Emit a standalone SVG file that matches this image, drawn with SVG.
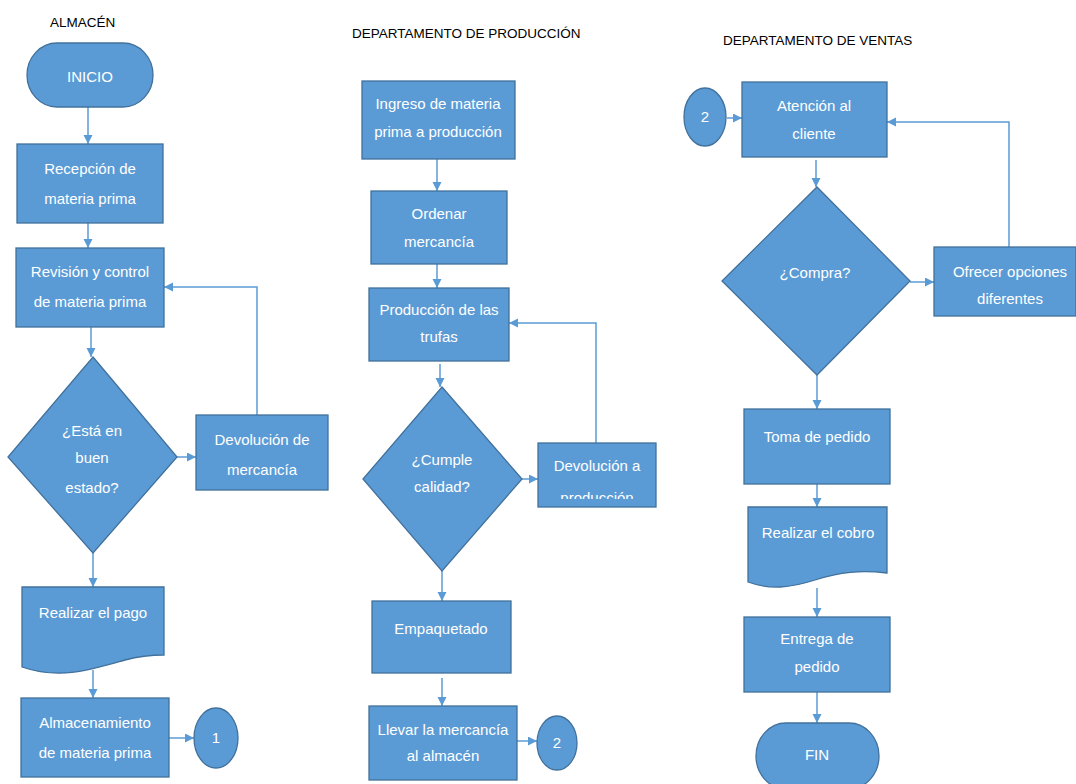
<svg xmlns="http://www.w3.org/2000/svg" width="1076" height="784" viewBox="0 0 1076 784">
<style>
.n{fill:#5B9BD5;stroke:#41719C;stroke-width:1.3}
.t{font-family:"Liberation Sans",Arial,sans-serif;font-size:15px;fill:#FFFFFF;text-anchor:middle}
.h{font-family:"Liberation Sans",Arial,sans-serif;font-size:13.5px;fill:#000000}
.e{fill:none;stroke:#5B9BD5;stroke-width:1.5}
</style>
<defs>
<marker id="ah" markerUnits="userSpaceOnUse" markerWidth="10" markerHeight="10" refX="9" refY="4.5" orient="auto">
<path d="M0,0 L9,4.5 L0,9 z" fill="#5B9BD5"/>
</marker>
<clipPath id="clipDev2"><rect x="538" y="443" width="118" height="56"/></clipPath>
</defs>
<rect width="1076" height="784" fill="#FFFFFF"/>

<g id="titles">
<text class="h" x="50" y="27">ALMACÉN</text>
<text class="h" x="352" y="38">DEPARTAMENTO DE PRODUCCIÓN</text>
<text class="h" x="723" y="45">DEPARTAMENTO DE VENTAS</text>
</g>

<g id="connectors">
<path class="e" marker-end="url(#ah)" d="M88,107 V144"/>
<path class="e" marker-end="url(#ah)" d="M88,223 V248"/>
<path class="e" marker-end="url(#ah)" d="M91,327 V357"/>
<path class="e" marker-end="url(#ah)" d="M177,457 H196"/>
<path class="e" marker-end="url(#ah)" d="M257,415 V287 H164"/>
<path class="e" marker-end="url(#ah)" d="M93,553 V587"/>
<path class="e" marker-end="url(#ah)" d="M93,670 V698"/>
<path class="e" marker-end="url(#ah)" d="M169,738 H194"/>
<path class="e" marker-end="url(#ah)" d="M437,159 V191"/>
<path class="e" marker-end="url(#ah)" d="M437,264 V288"/>
<path class="e" marker-end="url(#ah)" d="M440,364 V387"/>
<path class="e" marker-end="url(#ah)" d="M522,479 H538"/>
<path class="e" marker-end="url(#ah)" d="M596,443 V323 H509"/>
<path class="e" marker-end="url(#ah)" d="M442,571 V601"/>
<path class="e" marker-end="url(#ah)" d="M442,678 V706"/>
<path class="e" marker-end="url(#ah)" d="M517,741 H537"/>
<path class="e" marker-end="url(#ah)" d="M727,118 H742"/>
<path class="e" marker-end="url(#ah)" d="M816,160 V187"/>
<path class="e" marker-end="url(#ah)" d="M910,282 H934"/>
<path class="e" marker-end="url(#ah)" d="M1009,247 V122 H887"/>
<path class="e" marker-end="url(#ah)" d="M817,375 V409"/>
<path class="e" marker-end="url(#ah)" d="M817,484 V507"/>
<path class="e" marker-end="url(#ah)" d="M817,588 V617"/>
<path class="e" marker-end="url(#ah)" d="M817,692 V723"/>
</g>

<g id="inicio">
<rect class="n" x="27" y="43" width="126" height="64" rx="30" ry="32"/>
<text class="t" x="90" y="82">INICIO</text>
</g>
<g id="recepcion">
<rect class="n" x="17" y="144" width="146" height="79"/>
<text class="t" x="90" y="174">Recepción de</text>
<text class="t" x="90" y="204">materia prima</text>
</g>
<g id="revision">
<rect class="n" x="16" y="248" width="148" height="79"/>
<text class="t" x="90" y="277">Revisión y control</text>
<text class="t" x="90" y="307">de materia prima</text>
</g>
<g id="estado">
<path class="n" d="M93,357 L177,457 L93,553 L8,457 z"/>
<text class="t" x="92" y="436">¿Está en</text>
<text class="t" x="92" y="463">buen</text>
<text class="t" x="92" y="493">estado?</text>
</g>
<g id="devolucion-mercancia">
<rect class="n" x="196" y="415" width="132" height="75"/>
<text class="t" x="262" y="445">Devolución de</text>
<text class="t" x="262" y="475">mercancía</text>
</g>
<g id="pago">
<path class="n" d="M22,587 H164 V655 C150,655 140,656 125,660 C90,670 60,680 22,667 z"/>
<text class="t" x="93" y="618">Realizar el pago</text>
</g>
<g id="almacenamiento">
<rect class="n" x="21" y="698" width="148" height="79"/>
<text class="t" x="95" y="728">Almacenamiento</text>
<text class="t" x="95" y="758">de materia prima</text>
</g>
<g id="conector-1">
<ellipse class="n" cx="216" cy="738" rx="22" ry="30"/>
<text class="t" x="216" y="743">1</text>
</g>

<g id="ingreso">
<rect class="n" x="362" y="81" width="153" height="78"/>
<text class="t" x="438" y="109">Ingreso de materia</text>
<text class="t" x="438" y="137">prima a producción</text>
</g>
<g id="ordenar">
<rect class="n" x="371" y="191" width="136" height="73"/>
<text class="t" x="439" y="219">Ordenar</text>
<text class="t" x="439" y="247">mercancía</text>
</g>
<g id="produccion">
<rect class="n" x="369" y="288" width="140" height="73"/>
<text class="t" x="439" y="315">Producción de las</text>
<text class="t" x="439" y="342">trufas</text>
</g>
<g id="calidad">
<path class="n" d="M442,387 L522,479 L442,571 L363,479 z"/>
<text class="t" x="442" y="465">¿Cumple</text>
<text class="t" x="442" y="492">calidad?</text>
</g>
<g id="devolucion-produccion">
<rect class="n" x="538" y="443" width="118" height="64"/>
<text class="t" x="597" y="471">Devolución a</text>
<text class="t" x="597" y="503" clip-path="url(#clipDev2)">producción</text>
</g>
<g id="empaquetado">
<rect class="n" x="372" y="601" width="139" height="72"/>
<text class="t" x="441" y="634">Empaquetado</text>
</g>
<g id="llevar">
<rect class="n" x="369" y="706" width="148" height="74"/>
<text class="t" x="443" y="735">Llevar la mercancía</text>
<text class="t" x="443" y="761">al almacén</text>
</g>
<g id="conector-2a">
<ellipse class="n" cx="557" cy="743" rx="20" ry="27"/>
<text class="t" x="557" y="748">2</text>
</g>

<g id="conector-2b">
<ellipse class="n" cx="705" cy="117" rx="21" ry="29"/>
<text class="t" x="705" y="122">2</text>
</g>
<g id="atencion">
<rect class="n" x="742" y="82" width="145" height="75"/>
<text class="t" x="814" y="111">Atención al</text>
<text class="t" x="814" y="139">cliente</text>
</g>
<g id="compra">
<path class="n" d="M817,187 L910,281 L817,375 L722,281 z"/>
<text class="t" x="815" y="278">¿Compra?</text>
</g>
<g id="ofrecer">
<rect class="n" x="934" y="247" width="142" height="69"/>
<text class="t" x="1010" y="277">Ofrecer opciones</text>
<text class="t" x="1010" y="304">diferentes</text>
</g>
<g id="toma">
<rect class="n" x="744" y="409" width="146" height="75"/>
<text class="t" x="817" y="442">Toma de pedido</text>
</g>
<g id="cobro">
<path class="n" d="M748,507 H887 V573 C860,570 840,572 815,580 C790,588 770,590 748,582 z"/>
<text class="t" x="818" y="538">Realizar el cobro</text>
</g>
<g id="entrega">
<rect class="n" x="744" y="617" width="146" height="75"/>
<text class="t" x="817" y="644">Entrega de</text>
<text class="t" x="817" y="672">pedido</text>
</g>
<g id="fin">
<rect class="n" x="756" y="723" width="123" height="66" rx="30" ry="33"/>
<text class="t" x="817" y="760">FIN</text>
</g>
</svg>
